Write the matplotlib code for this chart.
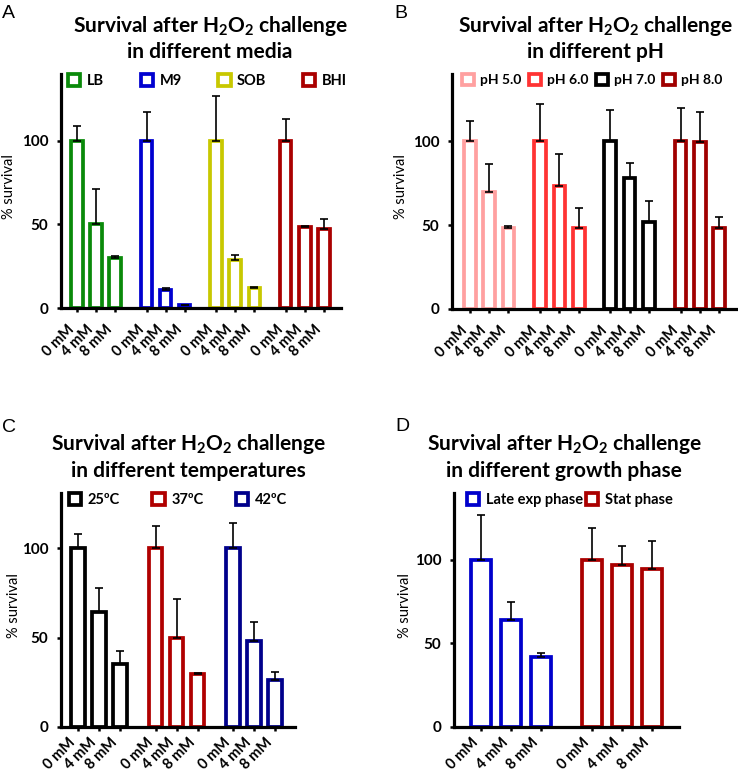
import matplotlib
matplotlib.use("Agg")
import matplotlib.pyplot as plt
from matplotlib.patches import Patch
import numpy as np

plt.rcParams['font.family'] = ['Lato', 'DejaVu Sans']
plt.rcParams['mathtext.fontset'] = 'custom'
plt.rcParams['mathtext.rm'] = 'Lato:bold'
plt.rcParams['mathtext.bf'] = 'Lato:bold'
plt.rcParams['mathtext.it'] = 'Lato:bold:italic'

# ---------------- data ----------------
conc_labels = ['0 mM', '4 mM', '8 mM']

media = ['LB', 'M9', 'SOB', 'BHI']
media_mean = [[100, 50, 30], [100, 11, 1.5], [100, 29, 12], [100, 48.5, 47]]
media_err = [[9, 21, 1], [17, 1, 0.3], [27, 3, 0.5], [13, 0.6, 6.5]]
media_colors = ['#0a8a0a', '#0000d0', '#c8c800', '#aa0000']

ph = ['pH 5.0', 'pH 6.0', 'pH 7.0', 'pH 8.0']
ph_mean = [[100, 70, 48], [100, 73, 48], [100, 78, 52], [100, 99.5, 48]]
ph_err = [[12, 16.5, 1.5], [22, 19.5, 12], [18.5, 9, 12.5], [19.5, 18, 7]]
ph_colors = ['#ffa0a0', '#ff3333', '#000000', '#a00000']

temps = ['25ºC', '37ºC', '42ºC']
temp_mean = [[100, 64.5, 35], [100, 50, 29.5], [100, 48, 26.5]]
temp_err = [[8, 13.5, 7.5], [12.5, 21.5, 1], [14, 10.7, 4.5]]
temp_colors = ['#000000', '#b00000', '#00008b']

phase = ['Late exp phase', 'Stat phase']
phase_mean = [[100, 64, 42], [100, 97, 94.5]]
phase_err = [[27, 11, 2.5], [19, 11, 17]]
phase_colors = ['#0000cc', '#aa0000']

# ---------------- layout ----------------
W, H = 738, 773
fig = plt.figure(figsize=(W / 100, H / 100), dpi=100)


def add_ax(l, r, t, b):
    return fig.add_axes([l / W, 1 - b / H, (r - l) / W, (b - t) / H])


def panel(ax, groups, means, errs, colors, gstep, width, xpad_l, xpad_r, ytop,
          leg_x, colspace, ylab_px, box, xpad=7, legsize=10.5):
    l, r, t, b = box
    xs_all, labels = [], []
    for g, (m, e, c) in enumerate(zip(means, errs, colors)):
        xs = np.arange(len(m)) + g * gstep
        ax.bar(xs, m, width, facecolor='white', edgecolor=c, linewidth=2.7, zorder=2)
        ax.errorbar(xs, m, yerr=[np.zeros(len(e)), e], fmt='none', ecolor='black',
                    elinewidth=1.2, capsize=3, capthick=1.2, zorder=3)
        xs_all.extend(xs)
        labels.extend(conc_labels)
    ax.set_xticks(xs_all)
    ax.set_xticklabels(labels, rotation=45, ha='right', fontsize=10.5, fontweight='bold')
    ax.set_xlim(-xpad_l, xs_all[-1] + xpad_r)
    ax.set_ylim(0, ytop)
    ax.set_yticks([0, 50, 100])
    ax.set_yticklabels(['0', '50', '100'], fontsize=11, fontweight='bold')
    for s in ['top', 'right']:
        ax.spines[s].set_visible(False)
    for s in ['left', 'bottom']:
        ax.spines[s].set_linewidth(2.3)
    ax.tick_params(axis='y', length=3, width=1.8, pad=6)
    ax.tick_params(axis='x', length=3, width=1.8, pad=xpad)
    ax.set_ylabel('% survival', fontsize=10.5, va='center')
    ax.yaxis.set_label_coords((ylab_px - l) / (r - l), 0.52)
    handles = [Patch(facecolor='white', edgecolor=c, linewidth=2.7, label=n)
               for n, c in zip(groups, colors)]
    ax.legend(handles=handles, loc='upper left', bbox_to_anchor=(leg_x, 1.0),
              ncol=len(groups), frameon=False, borderpad=0, borderaxespad=0,
              handlelength=0.85, handleheight=0.85, handletextpad=0.45,
              columnspacing=colspace, prop={'weight': 'bold', 'size': legsize})


def title(xc, y1, y2, line2, letter, lx, ly):
    fig.text(xc / W, 1 - y1 / H, r'Survival after H$_2$O$_2$ challenge', ha='center',
             va='baseline', fontsize=15, fontweight='bold')
    fig.text(xc / W, 1 - y2 / H, line2, ha='center', va='baseline', fontsize=15,
             fontweight='bold')
    fig.text(lx / W, 1 - ly / H, letter, ha='left', va='baseline', fontsize=14,
             family='Liberation Sans')


boxA = (61, 341, 74, 308)
axA = add_ax(*boxA)
panel(axA, media, media_mean, media_err, media_colors, 3.65, 0.6, 0.84, 0.9, 140,
      0.025, 2.5, 9, boxA)
title(210, 32, 58, 'in different media', 'A', 2, 18)

boxB = (452, 737, 74, 309)
axB = add_ax(*boxB)
panel(axB, ph, ph_mean, ph_err, ph_colors, 3.64, 0.61, 0.93, 0.93, 140,
      0.035, 0.55, 401, boxB, legsize=10)
title(595, 32, 58, 'in different pH', 'B', 394, 18)

boxC = (61, 295, 493, 727)
axC = add_ax(*boxC)
panel(axC, temps, temp_mean, temp_err, temp_colors, 3.7, 0.64, 0.81, 0.95, 131,
      0.034, 2.2, 14, boxC, xpad=3)
title(188, 450, 477, 'in different temperatures', 'C', 2, 432)

boxD = (454, 679, 493, 727)
axD = add_ax(*boxD)
panel(axD, phase, phase_mean, phase_err, phase_colors, 3.7, 0.64, 0.9, 0.9, 140,
      0.058, 0.2, 405, boxD, xpad=3)
title(564, 450, 477, 'in different growth phase', 'D', 395, 431)

fig.savefig('out.png', dpi=100)
